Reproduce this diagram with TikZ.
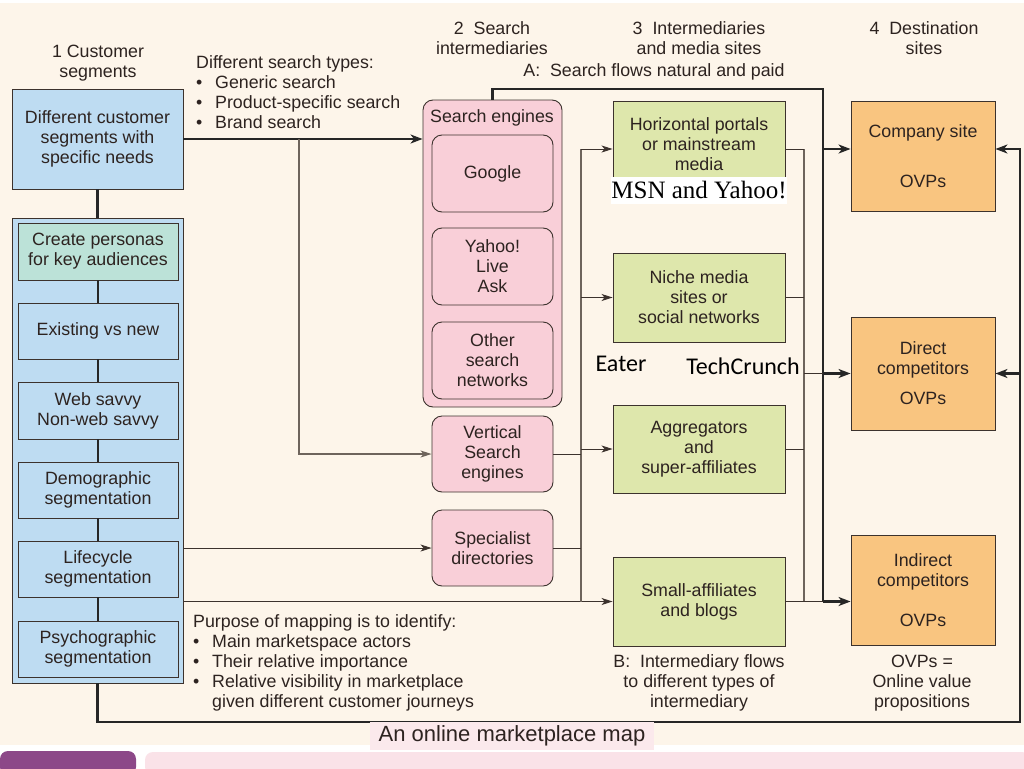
\documentclass[tikz,border=0pt]{standalone}
\usepackage{fontspec}
\setmainfont{Liberation Sans}
\newfontfamily\carl{Carlito}
\newfontfamily\serifx{Liberation Serif}
\usetikzlibrary{arrows.meta}
\definecolor{bgc}{RGB}{253,245,234}
\definecolor{txt}{RGB}{45,35,32}
\definecolor{linec}{RGB}{60,50,45}
\definecolor{grayl}{RGB}{110,100,92}
\definecolor{blueF}{RGB}{190,220,242}
\definecolor{tealF}{RGB}{188,226,216}
\definecolor{pinkF}{RGB}{249,207,216}
\definecolor{greenF}{RGB}{222,231,172}
\definecolor{orangeF}{RGB}{249,197,128}
\definecolor{purpleF}{RGB}{140,72,136}
\definecolor{stripF}{RGB}{250,226,232}
\definecolor{labF}{RGB}{251,233,236}
\newcommand\fs{\fontsize{17.8}{20}\selectfont}
\newcommand\bxat[7]{\node[#2, minimum width={#5-#3}, minimum height={#6-#4}] (#1) at ({(#3+#5)/2},{(#4+#6)/2}) {#7};}
\newcommand\bul{\makebox[19pt][l]{\textbullet}}
\tikzset{
  bx/.style={draw=linec, line width=0.9pt, inner sep=0pt, align=center, font=\fs, text=txt},
  bluebox/.style={bx, fill=blueF},
  tealbox/.style={bx, fill=tealF},
  pinkbox/.style={bx, fill=pinkF, rounded corners=10pt},
  greenbox/.style={bx, fill=greenF},
  orangebox/.style={bx, fill=orangeF},
  lab/.style={inner sep=0pt, align=center, font=\fs, text=txt},
  thickl/.style={draw=black!85, line width=2.8pt},
  thinl/.style={draw=linec, line width=0.9pt},
  grayline/.style={draw=grayl, line width=1.1pt},
  tip/.style={-{Stealth[length=11pt,width=7pt,inset=3pt]}},
  tipb/.style={-{Stealth[length=12pt,width=9pt,inset=3.5pt]}}
}
\begin{document}
\begin{tikzpicture}[x=1pt,y=-1pt]
\useasboundingbox (0,0) rectangle (1024,768);
% backgrounds
\fill[white] (0,0) rectangle (1024,768);
\fill[bgc] (0,3) rectangle (1024,745);
\fill[purpleF, rounded corners=8pt] (0,751) -- (136,751) -- (136,775) -- (0,775) -- cycle;
\fill[stripF, rounded corners=8pt] (145,752) -- (1030,752) -- (1030,775) -- (145,775) -- cycle;

% headers
\node[lab] (h1) at (98,63) {1 Customer\\segments};
\node[lab] (h2) at (492,38) {2\ \ Search\\intermediaries};
\node[lab] (h3) at (699,38) {3\ \ Intermediaries\\and media sites};
\node[lab] (h4) at (924,38) {4\ \ Destination\\sites};
\node[lab] (hA) at (654,72) {A:\ \ Search flows natural and paid};
\node[lab, align=left, anchor=west] (types) at (196,92) {Different search types:\\\bul Generic search\\\bul Product-specific search\\\bul Brand search};
\node[lab, align=left, anchor=west] (purpose) at (193,663) {Purpose of mapping is to identify:\\\bul Main marketspace actors\\\bul Their relative importance\\\bul Relative visibility in marketplace\\\hspace*{19pt}given different customer journeys};
\node[lab] (hB) at (699,683) {B:\ \ Intermediary flows\\to different types of\\intermediary};
\node[lab] (hO) at (922,683) {OVPs =\\Online value\\propositions};

% column 1
\bxat{cust}{bluebox}{12}{89}{183}{189}{Different customer\\segments with\\specific needs}
\bxat{col}{bluebox}{12}{218}{183}{683}{}
\bxat{p1}{tealbox}{18}{223}{178}{280}{Create personas\\for key audiences}
\bxat{p2}{bluebox}{18}{303}{178}{359}{Existing vs new}
\bxat{p3}{bluebox}{18}{382}{178}{439}{Web savvy\\Non-web savvy}
\bxat{p4}{bluebox}{18}{462}{178}{518}{Demographic\\segmentation}
\bxat{p5}{bluebox}{18}{541}{178}{597}{Lifecycle\\segmentation}
\bxat{p6}{bluebox}{18}{621}{178}{677}{Psychographic\\segmentation}

% column 2
\bxat{se}{pinkbox}{423}{100}{562}{407}{}
\node[lab] (selab) at (492,118) {Search engines};
\bxat{g1}{pinkbox}{432}{135}{553}{212}{Google}
\bxat{g2}{pinkbox}{432}{228}{553}{305}{Yahoo!\\Live\\Ask}
\bxat{g3}{pinkbox}{432}{322}{553}{399}{Other\\search\\networks}
\bxat{vs}{pinkbox}{432}{416}{553}{492}{Vertical\\Search\\engines}
\bxat{spec}{pinkbox}{432}{510}{553}{586}{Specialist\\directories}

% column 3
\bxat{hp}{greenbox}{613}{101}{785}{197}{}
\node[lab] (hplab) at (699,144) {Horizontal portals\\or mainstream\\media};
\node[fill=white, inner sep=0pt, minimum width=172pt, minimum height=27pt, font=\fontsize{25}{26}\selectfont\serifx, text=black] (msn) at (699,190) {MSN and Yahoo!};
\bxat{niche}{greenbox}{613}{253}{785}{342}{Niche media\\sites or\\social networks}
\bxat{agg}{greenbox}{613}{405}{785}{493}{Aggregators\\and\\super-affiliates}
\bxat{small}{greenbox}{613}{557}{785}{646}{Small-affiliates\\and blogs}
\node[inner sep=0pt, font=\fontsize{24}{26}\selectfont\carl, text=black] (eater) at (621,364) {Eater};
\node[inner sep=0pt, font=\fontsize{24}{26}\selectfont\carl, text=black] (tc) at (743,366) {TechCrunch};

% column 4
\bxat{company}{orangebox}{851}{101}{995}{211}{Company site\\[30pt]OVPs}
\bxat{direct}{orangebox}{851}{317}{995}{430}{Direct\\competitors\\[10pt]OVPs}
\bxat{indirect}{orangebox}{851}{535}{995}{645}{Indirect\\competitors\\[20pt]OVPs}

% connectors column 1
\draw[thickl] (cust.south) -- (col.north);
\foreach \a/\b in {p1/p2,p2/p3,p3/p4,p4/p5,p5/p6} \draw[thickl] (\a.south) -- (\b.north);
\draw[thickl, tipb] (cust.east) -- (cust.east -| se.west);
\coordinate (j1) at (299,139);
\draw[grayline, tip] (j1) |- (vs.west);
\draw[thinl, tip] (spec.west -| col.east) -- (spec.west);
\draw[thinl, tip] (small.west -| col.east) -- (small.west);

% left bus
\coordinate (Lt) at (581,149);
\draw[grayline] (Lt) -- (Lt |- small.west);
\draw[thinl, tip] (Lt) -- (hp.west);
\draw[thinl, tip] (niche.west -| Lt) -- (niche.west);
\draw[thinl, tip] (agg.west -| Lt) -- (agg.west);
\draw[thinl] (vs.east) -- (vs.east -| Lt);
\draw[thinl] (spec.east) -- (spec.east -| Lt);

% right bus
\coordinate (Rt) at (804,149);
\draw[grayline] (Rt) -- (Rt |- small.east);
\draw[thinl] (hp.east) -- (Rt);
\draw[thinl] (niche.east) -- (niche.east -| Rt);
\draw[thinl] (agg.east) -- (agg.east -| Rt);

% search flows A
\coordinate (Bt) at (823,89);
\draw[thickl] (se.north) |- (Bt) -- (Bt |- small.east);
\draw[thickl, tipb] (Bt |- hp.east) -- (company.west |- hp.east);
\draw[thinl] (direct.west -| Rt) -- (direct.west -| Bt);
\draw[thickl, tipb] (direct.west -| Bt) -- (direct.west);
\draw[thinl] (small.east) -- (small.east -| Bt);
\draw[thickl, tipb] (small.east -| Bt) -- (indirect.west |- small.east);

% outer loop
\coordinate (BR) at (1020,722);
\draw[thickl, tipb] (col.south) |- (BR) |- (company.east |- hp.east);
\draw[thickl, tipb] (BR |- direct.east) -- (direct.east);

% caption
\node[fill=labF, inner sep=0pt, minimum width=284pt, minimum height=28pt, font=\fontsize{22}{24}\selectfont, text=txt] (cap) at (512,736) {An online marketplace map};
\end{tikzpicture}
\end{document}
